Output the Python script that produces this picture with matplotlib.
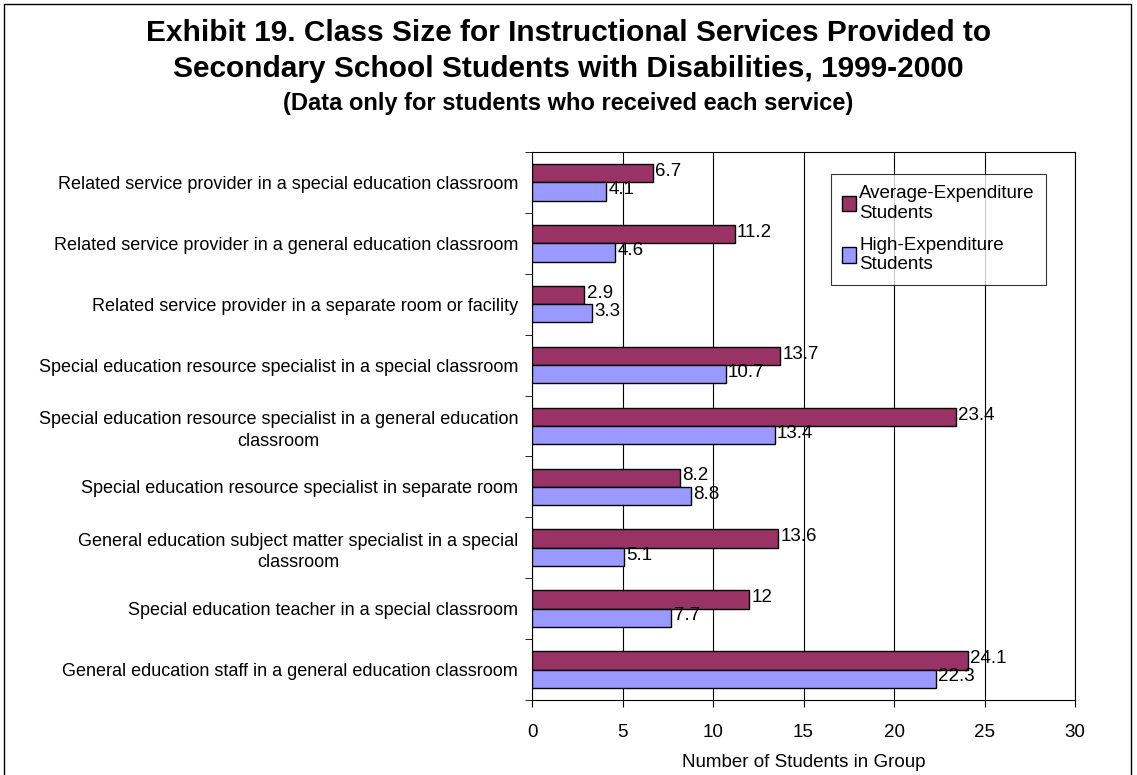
import matplotlib.pyplot as plt
import numpy as np
from matplotlib.patches import Rectangle

plt.rcParams['font.family'] = ['Liberation Sans', 'DejaVu Sans']

# categories listed bottom to top
categories = [
    'General education staff in a general education classroom',
    'Special education teacher in a special classroom',
    'General education subject matter specialist in a special\nclassroom',
    'Special education resource specialist in separate room',
    'Special education resource specialist in a general education\nclassroom',
    'Special education resource specialist in a special classroom',
    'Related service provider in a separate room or facility',
    'Related service provider in a general education classroom',
    'Related service provider in a special education classroom',
]
average_exp = [24.1, 12, 13.6, 8.2, 23.4, 13.7, 2.9, 11.2, 6.7]
high_exp = [22.3, 7.7, 5.1, 8.8, 13.4, 10.7, 3.3, 4.6, 4.1]
x_ticks = [0, 5, 10, 15, 20, 25, 30]

fs = 13.5
fig = plt.figure(figsize=(11.37, 7.75), dpi=100)
ax = fig.add_axes([0.4679, 0.0968, 0.4776, 0.7071])

y = np.arange(len(categories))
h = 0.30
b1 = ax.barh(y + h / 2, average_exp, height=h, color='#993366', edgecolor='black',
             linewidth=1.0, label='Average-Expenditure\nStudents', zorder=3)
b2 = ax.barh(y - h / 2, high_exp, height=h, color='#9999FF', edgecolor='black',
             linewidth=1.0, label='High-Expenditure\nStudents', zorder=3)

for bars, vals in ((b1, average_exp), (b2, high_exp)):
    for bar, v in zip(bars, vals):
        ax.text(bar.get_width() + 0.12, bar.get_y() + bar.get_height() / 2 + 0.03,
                '%g' % v, va='center', ha='left', fontsize=fs, zorder=4)

ax.set_xlim(0, 30)
ax.set_ylim(-0.5, len(categories) - 0.5)
ax.set_xticks(x_ticks)
ax.tick_params(axis='x', labelsize=fs, length=5, direction='out', pad=12)
ax.set_yticks(y)
ax.set_yticklabels(categories, fontsize=13, multialignment='center',
                   linespacing=1.35)
ax.tick_params(axis='y', length=0, pad=10)
ax.set_yticks(np.arange(len(categories) + 1) - 0.5, minor=True)
ax.tick_params(axis='y', which='minor', length=5, direction='out')
ax.grid(axis='x', color='black', linewidth=0.8, zorder=0)
for s in ax.spines.values():
    s.set_linewidth(0.8)
ax.set_xlabel('Number of Students in Group', fontsize=fs, va='center')
ax.xaxis.set_label_coords(0.5, (700 - 763) / 548)

leg = ax.legend(loc='upper left', bbox_to_anchor=(0.551, 0.96), fontsize=fs,
                frameon=True, fancybox=False, edgecolor='black', handlelength=0.7,
                handleheight=0.9, handletextpad=0.2, borderpad=0.6,
                labelspacing=0.8, borderaxespad=0)
leg.get_frame().set_linewidth(0.8)

fig.text(0.5, 0.958, 'Exhibit 19. Class Size for Instructional Services Provided to',
         ha='center', va='center', fontsize=21.5, fontweight='bold')
fig.text(0.5, 0.911, 'Secondary School Students with Disabilities, 1999-2000',
         ha='center', va='center', fontsize=21.5, fontweight='bold')
fig.text(0.5, 0.866, '(Data only for students who received each service)',
         ha='center', va='center', fontsize=17, fontweight='bold')

fig.patches.append(Rectangle((4 / 1137, -0.1), 1127 / 1137, 1.1 - 4 / 775,
                             transform=fig.transFigure, fill=False,
                             edgecolor='black', linewidth=1.0))

fig.savefig('out.png', dpi=100)
